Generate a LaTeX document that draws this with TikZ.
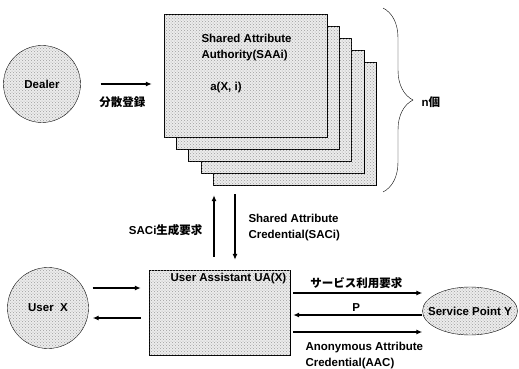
\documentclass[tikz,border=0pt]{standalone}
\usepackage{fontspec}
\setmainfont{Liberation Sans}
\newfontfamily\jp{Noto Sans CJK JP}
\usetikzlibrary{arrows.meta,shapes.geometric,decorations.pathreplacing,patterns}
\begin{document}
\begin{tikzpicture}[x=1pt, y=1pt, font=\fontsize{11.5}{16}\selectfont\bfseries,
		arr/.style={-{Latex[length=6pt,width=5pt]}, line width=1.3pt},
		dotted fill/.style={fill=gray!15, postaction={pattern=crosshatch dots, pattern color=gray!75}},
		saabox/.style={draw, dotted fill, minimum width=163pt, minimum height=123pt, inner sep=0pt},
		party/.style={draw, circle, dotted fill, inner sep=0pt}]
	\useasboundingbox (0,0) rectangle (519,368);
	% shared attribute authorities, back to front
	\foreach \k in {4,3,2,1}
		\node[saabox] (saa\k) at (245.5+12.3*\k, 292.5-12*\k) {};
	\node[saabox] (saa0) at (245.5,292.5) {};
	\node[align=left, anchor=north west] (saatxt) at (198,337) {Shared Attribute\\Authority(SAAi)};
	\node (axi) at (226,280) {a(X, i)};
	\draw[decorate, decoration={brace, amplitude=30pt}] (383,360) -- (383,176);
	\node[anchor=west] (cnt) at (418,266) {n{\jp 個}};
	% parties
	\node[party, minimum size=77pt] (dealer) at (42,284) {Dealer};
	\node[party, minimum size=81pt] (user) at (48,60) {User\ \ X};
	\node[draw, dotted fill, minimum width=141pt, minimum height=85pt] (ua) at (219.5,55.5) {};
	\node (ualbl) at (228.5,89) {User Assistant UA(X)};
	\node[draw, ellipse, dotted fill, minimum width=95pt, minimum height=48pt, inner sep=0pt,
		label=center:{Service Point Y}] (sp) at (470,57) {};
	% messages
	\draw[arr, shorten <=20pt, shorten >=12pt] (dealer.east) -- (dealer.east -| saa0.west)
		node[midway, below=9pt] {\jp 分散登録};
	\draw[arr, shorten <=13pt, shorten >=10pt] ([xshift=-5.5pt]ua.north) -- ([xshift=-5.5pt]ua.north |- saa4.south);
	\draw[arr, shorten <=9pt, shorten >=10pt] ([xshift=15.5pt]ua.north |- saa4.south) -- ([xshift=15.5pt]ua.north);
	\node[anchor=east] (req) at (206,138) {SACi{\jp 生成要求}};
	\node[align=left, anchor=west] (saci) at (245,140) {Shared Attribute\\Credential(SACi)};
	\draw[arr, shorten <=4pt, shorten >=8pt] ([yshift=20pt]user.east) -- ([yshift=20pt]user.east -| ua.west);
	\draw[arr, shorten <=8pt, shorten >=4pt] ([yshift=-10pt]user.east -| ua.west) -- ([yshift=-10pt]user.east);
	\draw[arr, shorten <=3pt] ([yshift=19.5pt]ua.east) -- ([yshift=19.5pt]ua.east -| sp.west)
		node[midway, above] {\jp サービス利用要求};
	\draw[arr, shorten >=3pt] ([yshift=-2.5pt]ua.east -| sp.west) -- ([yshift=-2.5pt]ua.east)
		node[midway, above] {P};
	\draw[arr, shorten <=3pt] ([yshift=-19.5pt]ua.east) -- ([yshift=-19.5pt]ua.east -| sp.west);
	\node[align=left, anchor=north west] (aac) at (302,29) {Anonymous Attribute\\Credential(AAC)};
\end{tikzpicture}
\end{document}
